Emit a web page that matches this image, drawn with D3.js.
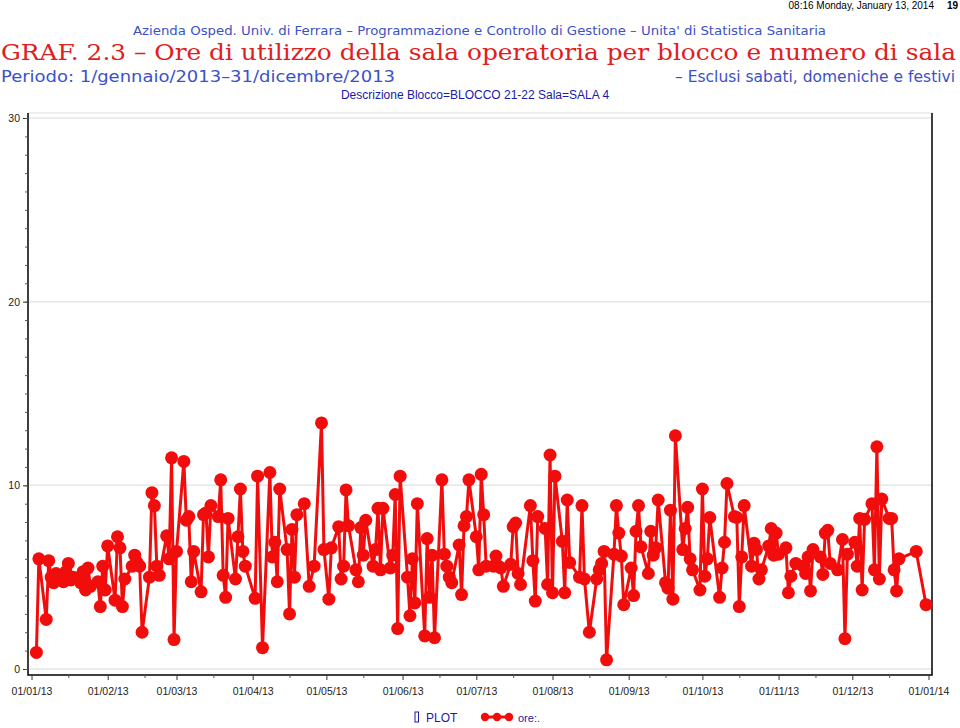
<!DOCTYPE html>
<html><head><meta charset="utf-8">
<script src="https://cdn.jsdelivr.net/npm/d3@7"></script>
<style>html,body{margin:0;padding:0;background:#fff;}svg{display:block;}</style>
</head><body>
<svg id="chart" width="960" height="728"></svg>
<script>
// Day offsets from 1 Jan 2013 (weekdays with data)
const dayOffsets = [2,3,6,7,8,9,10,13,14,15,16,17,20,21,22,23,24,27,28,29,30,31,
34,35,36,37,38,41,42,43,44,45,48,49,50,51,52,55,56,57,58,59,
62,63,64,65,66,69,70,71,72,73,76,77,78,79,80,83,84,85,86,87,
91,92,94,97,98,99,100,101,104,105,106,107,108,111,113,115,118,119,121,122,
125,126,127,128,129,132,133,134,135,136,139,140,141,142,143,146,147,148,149,150,
153,154,155,156,157,160,161,162,163,164,167,168,169,170,171,174,175,176,177,178,
181,182,183,184,185,188,189,190,191,192,195,196,197,198,199,203,204,205,206,209,210,211,212,213,
216,217,218,219,223,224,225,227,230,231,232,233,234,237,238,239,240,241,
244,245,246,247,248,251,252,253,254,255,258,259,260,261,262,265,266,267,268,269,272,273,
274,275,276,280,281,282,283,286,287,288,289,290,293,294,295,296,297,300,301,302,303,304,
307,308,309,311,314,315,316,317,318,321,322,323,324,325,328,330,331,332,
335,336,337,338,339,342,343,344,345,346,349,350,351,352,353,360,364];
const oreValues = [0.9,6.0,2.7,5.9,5.0,4.7,5.2,4.75,5.3,5.75,4.85,5.0,4.7,5.3,4.3,5.5,4.5,4.75,3.4,5.6,4.3,6.7,
3.75,7.2,6.6,3.4,4.9,5.6,6.2,5.8,5.6,2.0,5.0,9.6,8.9,5.6,5.1,7.25,6.0,11.5,1.6,6.4,
11.3,8.1,8.3,4.75,6.4,4.2,8.4,8.5,6.1,8.9,8.3,10.3,5.1,3.9,8.2,4.9,7.2,9.8,6.4,5.6,
3.85,10.5,1.16,10.7,6.1,6.9,4.75,9.8,6.5,3.0,7.6,5.0,8.4,9.0,4.5,5.6,13.4,6.5,3.8,6.6,
7.75,4.9,5.6,9.75,7.8,5.4,4.75,7.7,6.2,8.1,5.6,6.5,8.75,5.4,8.75,5.5,6.2,9.5,2.2,10.5,
5.0,2.9,6.0,3.6,9.0,1.8,7.1,3.9,6.2,1.7,10.3,6.25,5.6,5.0,4.7,6.75,4.05,7.8,8.3,10.3,
7.2,5.4,10.6,8.4,5.6,5.6,6.15,5.6,5.5,4.5,5.7,7.75,7.95,5.2,4.6,8.9,5.9,3.7,8.3,7.65,4.6,11.65,4.15,10.5,
6.95,4.15,9.2,5.8,5.0,8.9,4.9,2.0,4.9,5.4,5.75,6.4,0.5,6.25,8.9,7.4,6.15,3.5,
5.5,4.0,7.5,8.9,6.65,5.2,7.5,6.2,6.6,9.2,4.7,4.4,8.65,3.8,12.7,6.5,7.65,8.8,6.0,5.4,4.3,9.8,
5.05,6.0,8.25,3.9,5.5,6.9,10.1,8.3,8.25,3.4,6.1,8.9,5.6,6.85,6.5,4.9,5.4,6.7,7.65,6.2,7.4,6.25,
6.6,4.15,5.05,5.75,5.6,5.2,6.1,4.25,6.5,6.1,5.15,7.4,7.55,5.75,5.4,7.05,1.65,6.25,
6.9,5.6,8.2,4.3,8.15,9.0,5.4,12.1,4.9,9.25,8.2,8.2,5.4,4.25,6.0,6.4,3.5];
const xTickLabels = ["01/01/13","01/02/13","01/03/13","01/04/13","01/05/13","01/06/13","01/07/13","01/08/13","01/09/13","01/10/13","01/11/13","01/12/13","01/01/14"];
const yTickValues = [0,10,20,30];

const svg = d3.select("#chart");
const start = new Date(2013,0,1);
const data = dayOffsets.map((d,i)=>({date: d3.timeDay.offset(start,d), v: oreValues[i]}));

const frame = {l:28, r:932, t:113, b:675};
const x = d3.scaleTime().domain([new Date(2013,0,1), new Date(2014,0,1)]).range([31.5, 928.5]);
const y = d3.scaleLinear().domain([0,30]).range([669,118]);

// header texts
svg.append("text").attr("x",934).attr("y",9).attr("text-anchor","end")
  .attr("font-family","Liberation Sans, Arial").attr("font-size",10).attr("fill","#000")
  .text("08:16 Monday, January 13, 2014");
svg.append("text").attr("x",958).attr("y",9).attr("text-anchor","end")
  .attr("font-family","Liberation Sans, Arial").attr("font-size",10).attr("font-weight","bold").attr("fill","#000")
  .text("19");
svg.append("text").attr("x",133).attr("y",35).attr("textLength",693).attr("lengthAdjust","spacingAndGlyphs")
  .attr("font-family","DejaVu Sans").attr("font-size",13).attr("fill","#3a52c8")
  .text("Azienda Osped. Univ. di Ferrara – Programmazione e Controllo di Gestione – Unita' di Statistica Sanitaria");
svg.append("text").attr("x",1).attr("y",60).attr("textLength",955).attr("lengthAdjust","spacingAndGlyphs")
  .attr("font-family","DejaVu Serif").attr("font-size",22).attr("fill","#e0201c")
  .text("GRAF. 2.3 – Ore di utilizzo della sala operatoria per blocco e numero di sala");
svg.append("text").attr("x",1).attr("y",82).attr("textLength",394).attr("lengthAdjust","spacingAndGlyphs")
  .attr("font-family","DejaVu Sans").attr("font-size",16).attr("fill","#3a52c8")
  .text("Periodo: 1/gennaio/2013–31/dicembre/2013");
svg.append("text").attr("x",955).attr("y",82).attr("text-anchor","end").attr("textLength",280).attr("lengthAdjust","spacingAndGlyphs")
  .attr("font-family","DejaVu Sans").attr("font-size",15.5).attr("fill","#3a52c8")
  .text("– Esclusi sabati, domeniche e festivi");
svg.append("text").attr("x",475).attr("y",99).attr("text-anchor","middle")
  .attr("font-family","Liberation Sans, Arial").attr("font-size",12).attr("fill","#1a1aa6")
  .text("Descrizione Blocco=BLOCCO 21-22 Sala=SALA 4");

// gridlines
svg.append("g").selectAll("line").data(yTickValues).join("line")
  .attr("x1",frame.l).attr("x2",frame.r).attr("y1",d=>y(d)).attr("y2",d=>y(d))
  .attr("stroke","#e6e6e6").attr("stroke-width",1.5);

// frame
svg.append("line").attr("x1",frame.l).attr("x2",frame.r).attr("y1",frame.t).attr("y2",frame.t).attr("stroke","#dddddd");
svg.append("path").attr("d",`M${frame.l},${frame.t}V${frame.b}H${frame.r}V${frame.t}`)
  .attr("fill","none").attr("stroke","#000").attr("stroke-width",1.5);

// y axis
const yAxis = d3.axisLeft(y).tickValues(yTickValues).tickSize(5).tickFormat(d3.format("d"));
const gy = svg.append("g").attr("transform",`translate(${frame.l},0)`).call(yAxis);
gy.select(".domain").remove();
gy.selectAll("text").attr("font-family","Liberation Sans, Arial").attr("font-size",10.5).attr("fill","#222");
gy.selectAll("line").attr("stroke","#333");
const gyMinor = svg.append("g").attr("transform",`translate(${frame.l},0)`)
  .call(d3.axisLeft(y).ticks(30).tickSize(3).tickFormat(""));
gyMinor.select(".domain").remove();
gyMinor.selectAll("line").attr("stroke","#555");

// x axis
const monthTicks = xTickLabels.map(s=>{const p=s.split("/");return new Date(2000+ +p[2], +p[1]-1, +p[0]);});
const xAxis = d3.axisBottom(x).tickValues(monthTicks).tickSize(5).tickPadding(8)
  .tickFormat((d,i)=>xTickLabels[i]);
const gx = svg.append("g").attr("transform",`translate(0,${frame.b})`).call(xAxis);
gx.select(".domain").remove();
gx.selectAll("text").attr("font-family","Liberation Sans, Arial").attr("font-size",10.5).attr("fill","#222");
gx.selectAll("line").attr("stroke","#333");
const midTicks = monthTicks.slice(0,12).map(d=>new Date(d.getFullYear(), d.getMonth(), 16));
const gxMinor = svg.append("g").attr("transform",`translate(0,${frame.b})`)
  .call(d3.axisBottom(x).tickValues(midTicks).tickSize(3).tickFormat(""));
gxMinor.select(".domain").remove();
gxMinor.selectAll("line").attr("stroke","#555");

// series
const red = "#f20d0d";
svg.append("path").datum(data)
  .attr("d", d3.line().x(d=>x(d.date)).y(d=>y(d.v)))
  .attr("fill","none").attr("stroke",red).attr("stroke-width",3).attr("stroke-linejoin","round");
svg.append("g").selectAll("circle").data(data).join("circle")
  .attr("cx",d=>x(d.date)).attr("cy",d=>y(d.v)).attr("r",6.5).attr("fill",red);

// legend
const lg = svg.append("g");
lg.append("rect").attr("x",415).attr("y",712).attr("width",3.5).attr("height",10)
  .attr("fill","none").attr("stroke","#1a1aa6").attr("stroke-width",1);
lg.append("text").attr("x",426).attr("y",722).attr("font-family","Liberation Sans, Arial").attr("font-size",12)
  .attr("fill","#1a1aa6").text("PLOT");
lg.append("line").attr("x1",482).attr("x2",512).attr("y1",717).attr("y2",717).attr("stroke",red).attr("stroke-width",3);
lg.selectAll("circle").data([485,497,509]).join("circle").attr("cx",d=>d).attr("cy",717).attr("r",4.2).attr("fill",red);
lg.append("text").attr("x",518).attr("y",722).attr("font-family","Liberation Sans, Arial").attr("font-size",11)
  .attr("fill","#1a1aa6").text("ore:.");
</script>
</body></html>
